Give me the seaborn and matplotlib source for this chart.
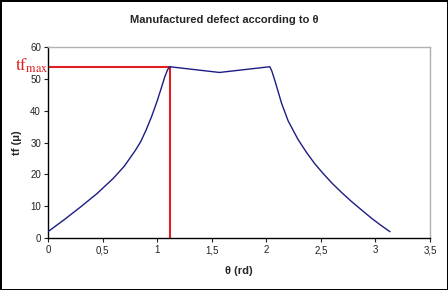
"""Manufactured defect tf versus theta, Excel-style chart."""
import matplotlib
matplotlib.use('Agg')
import matplotlib.pyplot as plt
import seaborn as sns
import pandas as pd

# Curve
theta = [0.0, 0.15, 0.30, 0.45, 0.60, 0.70, 0.80, 0.85, 0.90, 0.95,
         1.00, 1.04, 1.07, 1.095, 1.115, 1.571, 2.032, 2.05, 2.078, 2.11,
         2.14, 2.20, 2.29, 2.37, 2.445, 2.52, 2.60, 2.69, 2.78, 2.87,
         2.965, 3.05, 3.133]
tf = [2.0, 5.8, 9.8, 14.0, 18.8, 22.6, 27.5, 30.3, 34.0, 38.2,
      43.0, 47.3, 50.6, 52.8, 53.8, 52.0, 53.8, 52.5, 49.5, 45.8,
      42.3, 36.8, 31.0, 26.8, 23.3, 20.3, 17.3, 14.3, 11.5, 8.9,
      6.2, 4.0, 2.0]

theta_max = 1.115
tf_max = 53.8

x_ticks = [0, 0.5, 1, 1.5, 2, 2.5, 3, 3.5]
x_ticklabels = ['0', '0,5', '1', '1,5', '2', '2,5', '3', '3,5']
y_ticks = [0, 10, 20, 30, 40, 50, 60]

sns.set_style('ticks')
plt.rcParams['font.family'] = ['Liberation Sans', 'DejaVu Sans']
plt.rcParams['mathtext.fontset'] = 'stix'

df = pd.DataFrame({'theta': theta, 'tf': tf})

fig = plt.figure(figsize=(4.48, 2.9), dpi=100, edgecolor='black', linewidth=2)
ax = fig.add_axes([0.107, 0.179, 0.853, 0.659])

# tf_max guide lines
ax.plot([0, theta_max], [tf_max, tf_max], color='#e02020', linewidth=1.5, zorder=2)
ax.plot([theta_max, theta_max], [0, tf_max], color='#e02020', linewidth=1.5, zorder=2)

sns.lineplot(data=df, x='theta', y='tf', sort=False, color='#1c1c84',
             linewidth=1.0, ax=ax, zorder=3)

ax.set_xlim(0, 3.5)
ax.set_ylim(0, 60)
ax.set_xticks(x_ticks)
ax.set_xticklabels(x_ticklabels)
ax.set_yticks(y_ticks)
ax.tick_params(axis='both', labelsize=7, length=3, width=0.8, pad=2,
               colors='#222222')

for side in ['top', 'right']:
    ax.spines[side].set_visible(True)
    ax.spines[side].set_color('#b0b0b0')
    ax.spines[side].set_linewidth(1.0)
for side in ['left', 'bottom']:
    ax.spines[side].set_color('black')
    ax.spines[side].set_linewidth(1.0)

ax.set_xlabel('θ (rd)', fontsize=8, fontweight='bold', labelpad=8)
ax.set_ylabel('tf (μ)', fontsize=8, fontweight='bold', labelpad=6)
fig.text(0.5, 1 - 20 / 290, 'Manufactured defect according to θ',
         ha='center', va='center', fontsize=8, fontweight='bold')

fig.text(15 / 448, 1 - 66 / 290, r'$\mathrm{tf}_{\mathrm{max}}$',
         color='#e02020', fontsize=12.5, ha='left', va='center')

fig.savefig('out.png', dpi=100, edgecolor=fig.get_edgecolor(), facecolor='white')
